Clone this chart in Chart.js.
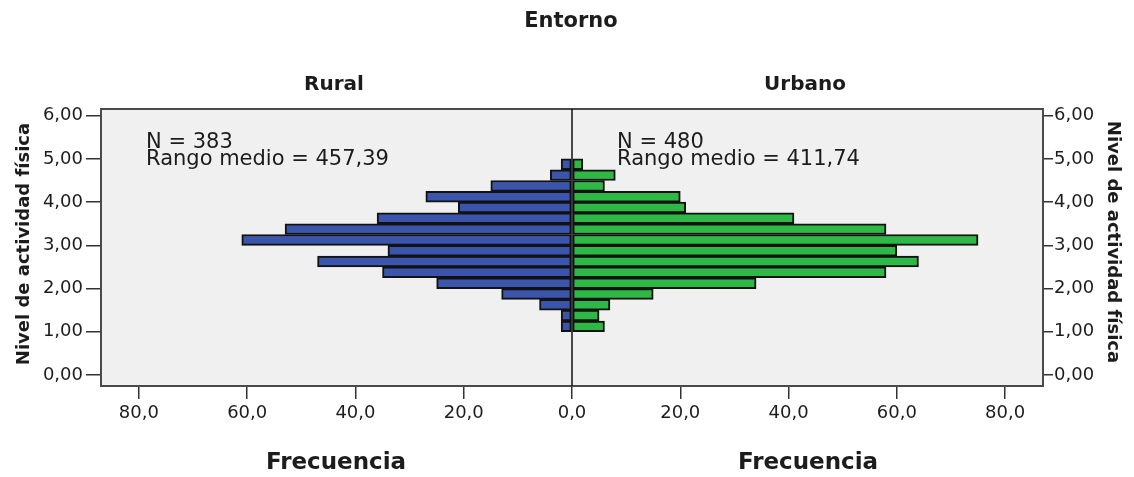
<!DOCTYPE html>
<html lang="es">
<head>
<meta charset="utf-8">
<title>Entorno</title>
<script src="https://cdn.jsdelivr.net/npm/chart.js@4.4.1/dist/chart.umd.min.js"></script>
<style>
  html, body { margin: 0; padding: 0; background: #ffffff; }
  #wrap { width: 1134px; height: 477px; }
</style>
</head>
<body>
<div id="wrap"><canvas id="piramide" width="1134" height="477"></canvas></div>
<script>
// --- Datos: centros de los intervalos (ancho 0,25) y frecuencias por grupo ---
const centrosIntervalo = [4.875, 4.625, 4.375, 4.125, 3.875, 3.625, 3.375, 3.125,
                          2.875, 2.625, 2.375, 2.125, 1.875, 1.625, 1.375, 1.125];
const frecuenciaRural  = [2, 4, 15, 27, 21, 36, 53, 61, 34, 47, 35, 25, 13, 6, 2, 2];
const frecuenciaUrbano = [2, 8, 6, 20, 21, 41, 58, 75, 60, 64, 58, 34, 15, 7, 5, 6];
const ticksFrecuencia  = [-80, -60, -40, -20, 0, 20, 40, 60, 80];
const ticksNivel       = [0, 1, 2, 3, 4, 5, 6];
const textoRural  = ['N = 383', 'Rango medio = 457,39'];
const textoUrbano = ['N = 480', 'Rango medio = 411,74'];

const FUENTE = '"DejaVu Sans", sans-serif';
const COLOR_TEXTO = '#1c1c1c';

// Rural se dibuja hacia la izquierda (valores negativos)
const datosRural  = centrosIntervalo.map((y, i) => ({ x: -frecuenciaRural[i], y }));
const datosUrbano = centrosIntervalo.map((y, i) => ({ x: frecuenciaUrbano[i], y }));

const fmtNivel = v => Number(v).toFixed(2).replace('.', ',');
const fmtFrec = v => Math.abs(Number(v)).toFixed(1).replace('.', ',');

// Plugin con fondo del área, marco, línea central y textos del gráfico SPSS
const decoracionPiramide = {
    id: 'decoracionPiramide',
    beforeDraw(chart) {
        const { ctx, chartArea: a } = chart;
        ctx.save();
        ctx.fillStyle = '#f0f0f0';
        ctx.fillRect(a.left, a.top, a.right - a.left, a.bottom - a.top);
        ctx.restore();
    },
    afterDatasetsDraw(chart) {
        const { ctx, chartArea: a, scales } = chart;
        const x0 = scales.x.getPixelForValue(0);
        ctx.save();
        // marco
        ctx.strokeStyle = '#4a4a4a';
        ctx.lineWidth = 2;
        ctx.strokeRect(a.left, a.top, a.right - a.left, a.bottom - a.top);
        // línea central
        ctx.strokeStyle = '#111';
        ctx.lineWidth = 1.5;
        ctx.beginPath();
        ctx.moveTo(x0, a.top);
        ctx.lineTo(x0, a.bottom);
        ctx.stroke();

        ctx.fillStyle = COLOR_TEXTO;
        ctx.textAlign = 'center';
        ctx.textBaseline = 'middle';
        ctx.font = 'bold 21px ' + FUENTE;
        ctx.fillText('Entorno', 571, 22);
        ctx.font = 'bold 20px ' + FUENTE;
        ctx.fillText('Rural', 334, 85);
        ctx.fillText('Urbano', 805, 85);
        ctx.font = 'bold 23px ' + FUENTE;
        ctx.fillText('Frecuencia', 336, 463);
        ctx.fillText('Frecuencia', 808, 463);

        // N y rango medio
        ctx.textAlign = 'left';
        ctx.textBaseline = 'alphabetic';
        ctx.font = '21px ' + FUENTE;
        ctx.fillText(textoRural[0], 146, 148);
        ctx.fillText(textoRural[1], 146, 165);
        ctx.fillText(textoUrbano[0], 617, 148);
        ctx.fillText(textoUrbano[1], 617, 165);

        // títulos de los ejes verticales
        ctx.textAlign = 'center';
        ctx.textBaseline = 'middle';
        ctx.font = 'bold 18px ' + FUENTE;
        ctx.save();
        ctx.translate(24, 244);
        ctx.rotate(-Math.PI / 2);
        ctx.fillText('Nivel de actividad física', 0, 0);
        ctx.restore();
        ctx.save();
        ctx.translate(1113, 242);
        ctx.rotate(Math.PI / 2);
        ctx.fillText('Nivel de actividad física', 0, 0);
        ctx.restore();
        ctx.restore();
    }
};

const ejeNivel = (posicion, ancho, largoMarca, relleno) => ({
    type: 'linear',
    position: posicion,
    min: -0.255,
    max: 6.155,
    offset: false,
    afterBuildTicks: (scale) => { scale.ticks = ticksNivel.map(v => ({ value: v })); },
    afterFit: (scale) => { scale.width = ancho; },
    grid: { offset: false, drawOnChartArea: false, drawTicks: true, tickLength: largoMarca, color: '#333', lineWidth: 1.5 },
    border: { display: false },
    ticks: { callback: fmtNivel, font: { family: FUENTE, size: 18 }, color: COLOR_TEXTO, padding: relleno }
});

new Chart(document.getElementById('piramide').getContext('2d'), {
    type: 'bar',
    data: {
        datasets: [{
            label: 'Rural',
            data: datosRural,
            backgroundColor: '#3a55ab',
            borderColor: '#121212',
            borderWidth: 2,
            borderSkipped: false,
            grouped: false,
            barPercentage: 1,
            categoryPercentage: 1
        }, {
            label: 'Urbano',
            data: datosUrbano,
            backgroundColor: '#2eb845',
            borderColor: '#121212',
            borderWidth: 2,
            borderSkipped: false,
            grouped: false,
            barPercentage: 1,
            categoryPercentage: 1
        }]
    },
    options: {
        indexAxis: 'y',
        responsive: false,
        animation: false,
        devicePixelRatio: 1,
        layout: { padding: { top: 109, left: 0, right: 0, bottom: 0 } },
        scales: {
            x: {
                type: 'linear',
                min: -87,
                max: 87,
                afterBuildTicks: (scale) => { scale.ticks = ticksFrecuencia.map(v => ({ value: v })); },
                afterFit: (scale) => { scale.height = 91; },
                grid: { drawOnChartArea: false, drawTicks: true, tickLength: 13, color: '#333', lineWidth: 1.5 },
                border: { display: false },
                ticks: { callback: fmtFrec, font: { family: FUENTE, size: 18 }, color: COLOR_TEXTO, padding: 4, maxRotation: 0 }
            },
            y: ejeNivel('left', 101, 15, 3),
            y2: ejeNivel('right', 91, 10, 1)
        },
        plugins: {
            legend: { display: false },
            title: { display: false },
            tooltip: { enabled: false }
        }
    },
    plugins: [decoracionPiramide]
});
</script>
</body>
</html>
